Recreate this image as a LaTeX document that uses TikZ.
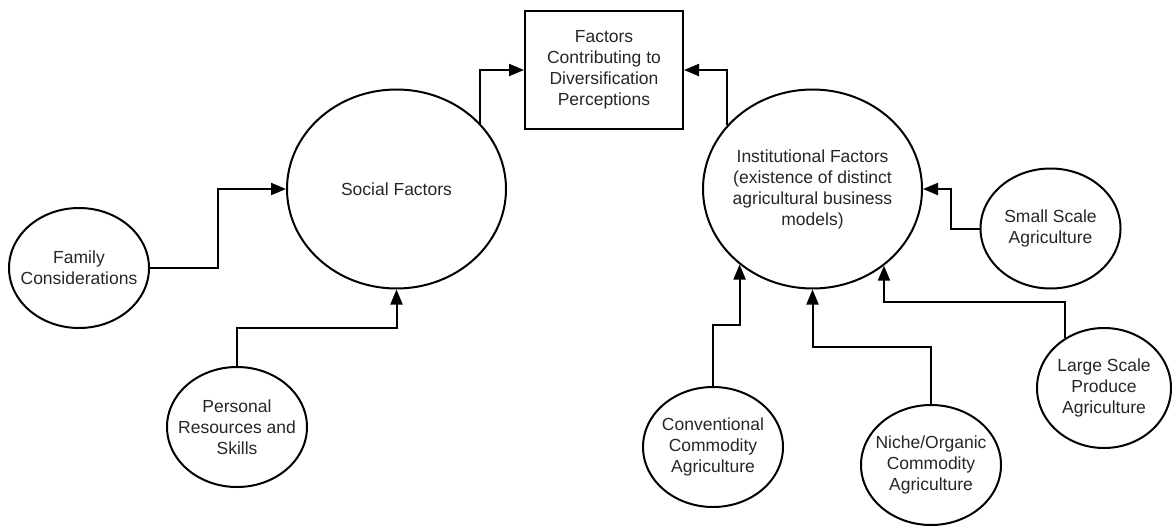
\documentclass[tikz,border=0pt]{standalone}
\usepackage{fontspec}
\setmainfont{Liberation Sans}
\usetikzlibrary{arrows.meta, shapes.geometric, calc}

\begin{document}
\begin{tikzpicture}[x=1pt, y=-1pt,
    every node/.style = {align=center, text=black!85,
      font=\fontsize{17.5}{21}\selectfont},
    factor/.style  = {ellipse, draw, line width=2pt, inner xsep=-30pt,
      inner ysep=0pt, minimum width=219pt, minimum height=199pt},
    source/.style  = {ellipse, draw, line width=2pt, inner xsep=-30pt,
      inner ysep=0pt, minimum width=140pt, minimum height=120pt},
    outcome/.style = {rectangle, draw, line width=2pt,
      minimum width=158pt, minimum height=118pt},
    link/.style    = {line width=2pt,
      -{Triangle[length=15pt,width=12pt]}}
  ]
  \useasboundingbox (0,0) rectangle (1172,527);

  \node[outcome] (fcdp) at (604,70) {Factors\\Contributing to\\Diversification\\Perceptions};
  \node[factor] (social) at (396.5,189) {Social Factors};
  \node[factor] (inst) at (812.5,189) {Institutional Factors\\(existence of distinct\\agricultural business\\models)};

  \node[source] (family) at (79,268) {Family\\Considerations};
  \node[source] (personal) at (237,427) {Personal\\Resources and\\Skills};
  \node[source] (small) at (1050.5,228.5) {Small Scale\\Agriculture};
  \node[source] (conv) at (713,447) {Conventional\\Commodity\\Agriculture};
  \node[source] (niche) at (931,465) {Niche/Organic\\Commodity\\Agriculture};
  \node[source, minimum width=134pt] (large) at (1104,388) {Large Scale\\Produce\\Agriculture};

  % social side
  \draw[link] (family.east) -| ($(family.east)!.5!(social.west)$) |- (social.west);
  \draw[link] (personal.north) |- ($(personal.north)!.5!(social.south)$) -| (social.south);
  \draw[link] (social.38) |- (fcdp.west);

  % institutional side
  \draw[link] (inst.143) |- (fcdp.east);
  \draw[link] (small.west) -| ($(small.west)!.5!(inst.east)$) |- (inst.east);
  \draw[link] (conv.north) |- ($(conv.north)!.5!(inst.226)$) -| (inst.226);
  \draw[link] (niche.north) |- ($(niche.north)!.5!(inst.south)$) -| (inst.south);
  \draw[link] (large.128) |- ($(large.128)!.5!(inst.313)$) -| (inst.313);
\end{tikzpicture}
\end{document}
